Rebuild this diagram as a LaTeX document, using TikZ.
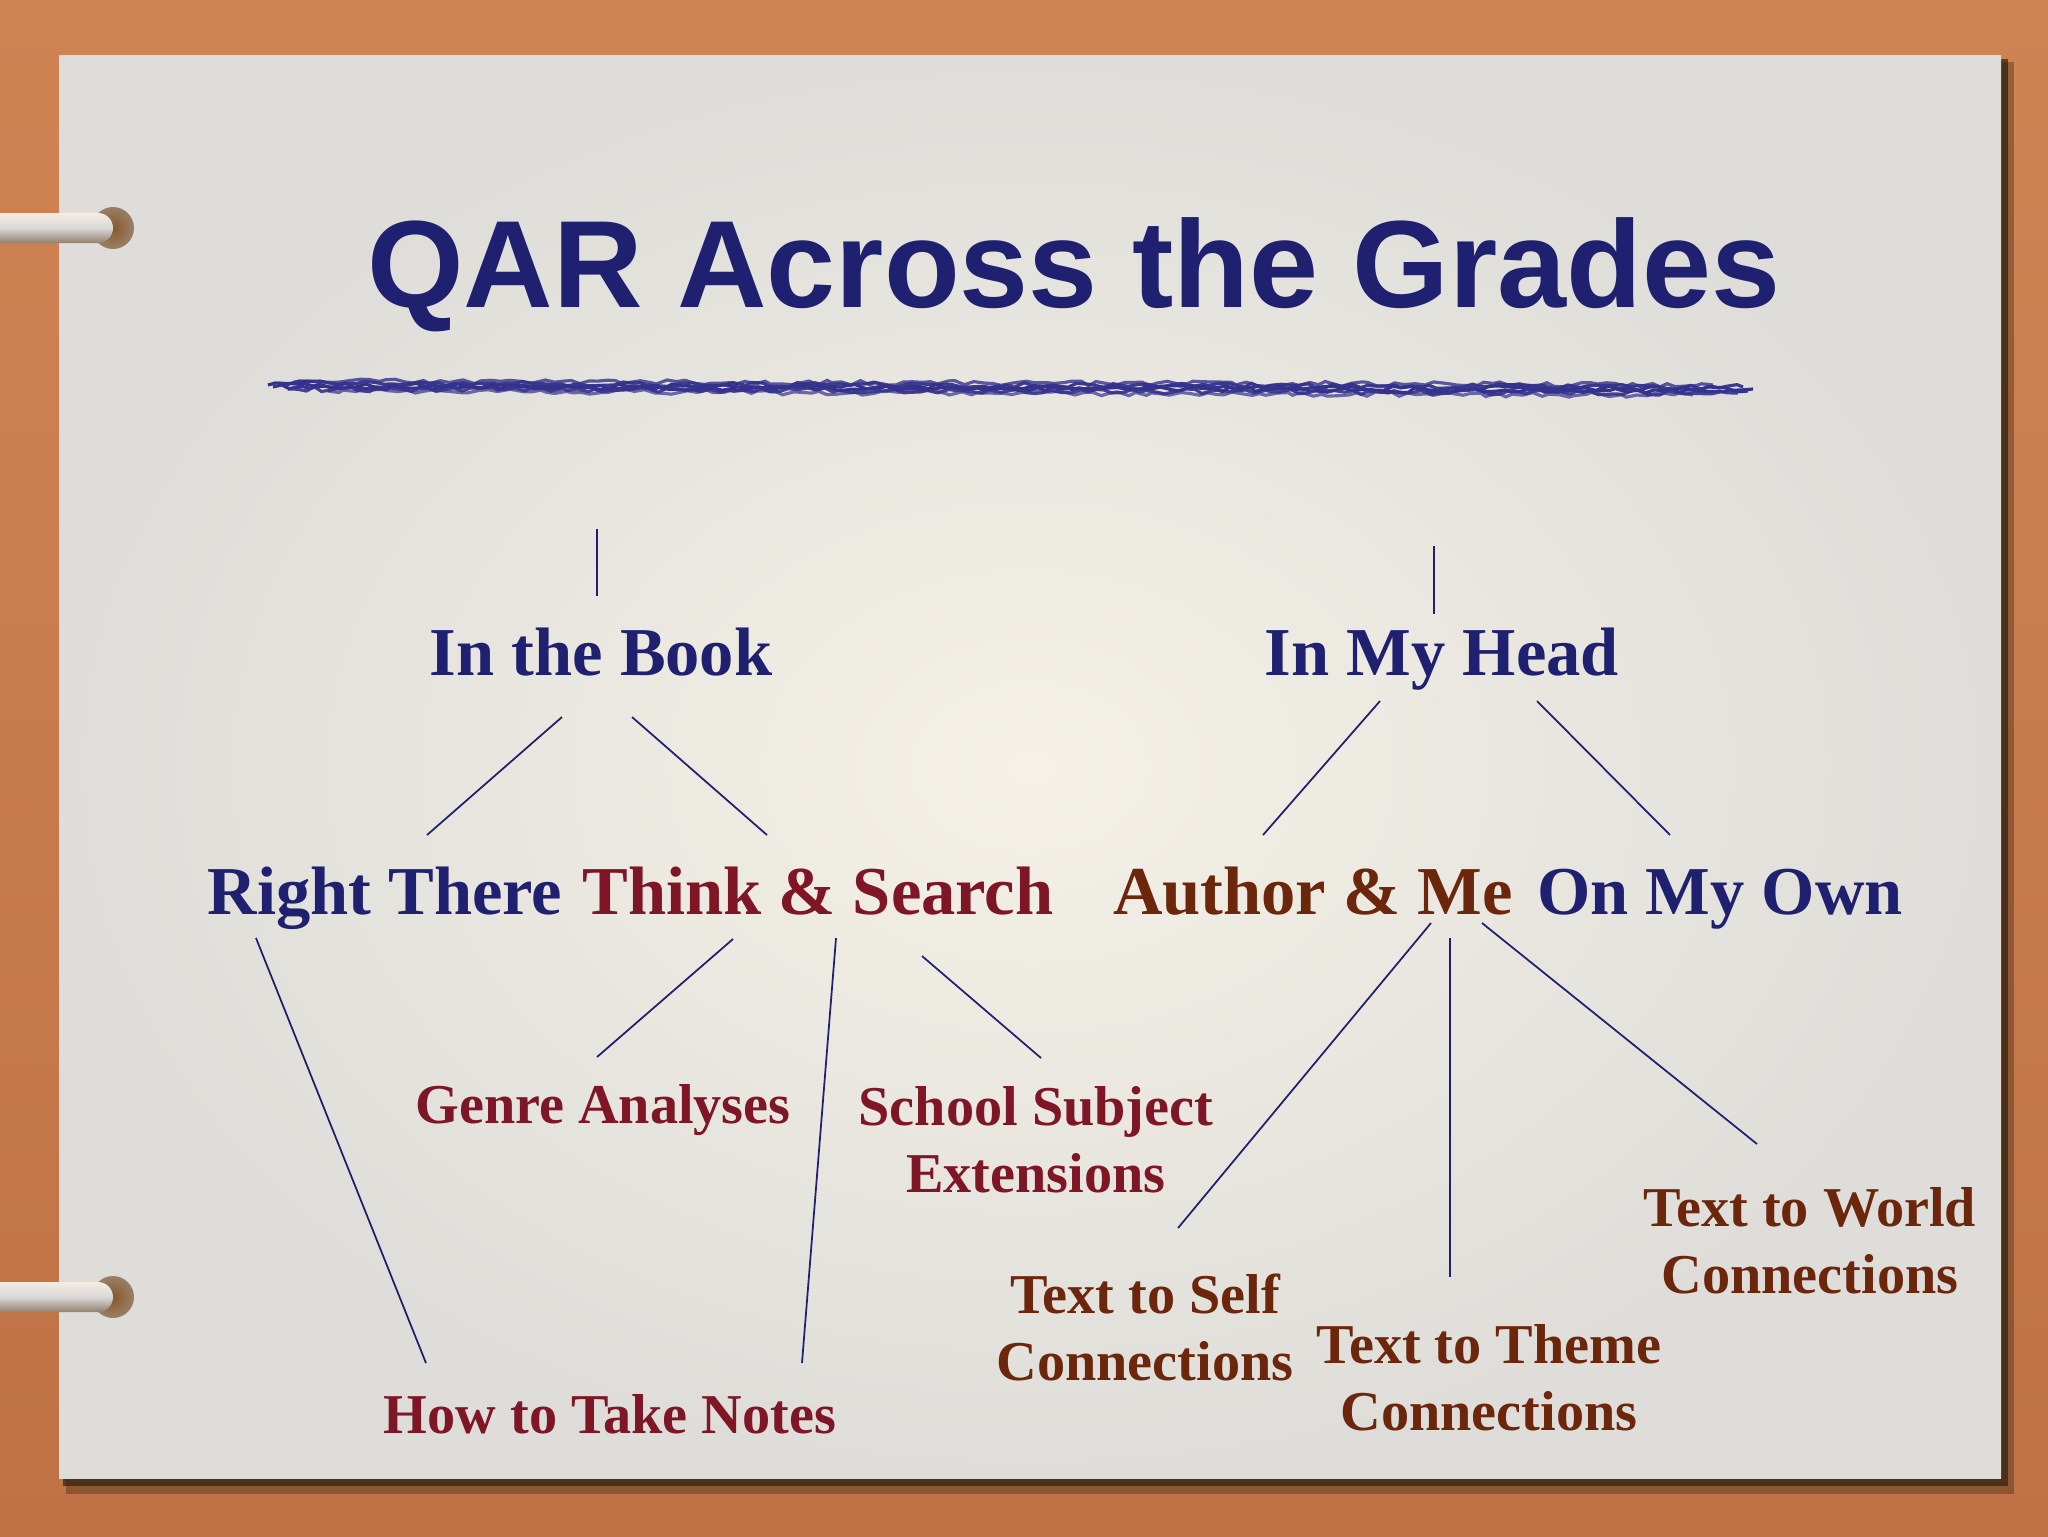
\documentclass[tikz,border=0pt]{standalone}
\usepackage{fontspec}
\setmainfont{Liberation Serif}
\newfontfamily\titlefont{Liberation Sans}
\usepackage{tikz}
\usetikzlibrary{decorations.pathmorphing}
\definecolor{qarnavy}{RGB}{31,33,112}
\definecolor{qarred}{RGB}{126,22,38}
\definecolor{qarbrown}{RGB}{108,38,12}
\definecolor{qarwood}{RGB}{208,132,84}
\definecolor{qarwooddark}{RGB}{192,114,70}
\definecolor{qarpaper}{RGB}{245,241,231}
\definecolor{qarpapergrey}{RGB}{222,221,217}
\definecolor{qarbrush}{RGB}{52,50,140}
\tikzset{
  topic/.style={font=\bfseries\fontsize{19.5}{23}\selectfont, text=qarnavy,
    anchor=base, inner sep=0pt},
  task/.style={font=\bfseries\fontsize{16}{19}\selectfont, align=center,
    anchor=base, inner sep=0pt},
  link/.style={draw=qarnavy, line width=0.5pt},
}

\begin{document}
\begin{tikzpicture}[x=0.1mm,y=-0.1mm]

  \useasboundingbox (0,0) rectangle (2048,1536);

  % Board and page
  \shade[top color=qarwood, bottom color=qarwooddark] (0,0) rectangle (2048,1536);
  \fill[black!60!brown, opacity=0.45] (66,62) rectangle (2014,1494);
  \fill[black!75!brown, opacity=0.7] (63,59) rectangle (2008,1486);
  \shade[inner color=qarpaper, outer color=qarpapergrey] (59,55) rectangle (2001,1478);

  % Rings
  \foreach \ry in {228,1297} {
    \shade[inner color=brown!70!black, outer color=brown!40!gray] (113,\ry) circle (21);
    \shade[top color=white!85!brown, bottom color=gray!70!brown, middle color=gray!30]
      (-30,\ry-15) -- (98,\ry-15) arc[start angle=-90, end angle=90, radius=15]
      -- (-30,\ry+15) -- cycle;
  }

  % Title
  \node[font=\titlefont\bfseries\fontsize{35.3}{40}\selectfont, text=qarnavy,
    anchor=base, inner sep=0pt] (title) at (1074,307) {QAR Across the Grades};

  % Brush stroke
  \coordinate (brushL) at (268,386);
  \coordinate (brushR) at (1753,390);
  \pgfmathsetseed{11}
  \foreach \dy/\xs/\xe/\op in {-5/30/-40/0.8, -3/10/-10/0.95, -1/0/0/1,
      1/5/-5/1, 3/20/-15/0.9, 5/60/-60/0.7} {
    \draw[qarbrush, line width=0.9pt, opacity=\op, decorate,
      decoration={random steps, segment length=2.5pt, amplitude=0.7pt}]
      ([shift={(\xs,\dy)}]brushL) -- ([shift={(\xe,\dy)}]brushR);
  }

  % Nodes
  \node[topic] (book) at (601,675) {In the Book};
  \node[topic] (head) at (1442,675) {In My Head};
  \node[topic] (rthere) at (385,914) {Right There};
  \node[topic, text=qarred] (think) at (818,914) {Think \& Search};
  \node[topic, text=qarbrown] (author) at (1313,914) {Author \& Me};
  \node[topic] (own) at (1720,914) {On My Own};

  \node[task, text=qarred] (genre) at (603,1123) {Genre Analyses};
  \node[task, text=qarred] (subject) at (1036,1192) {School Subject\\Extensions};
  \node[task, text=qarred] (notes) at (610,1433) {How to Take Notes};
  \node[task, text=qarbrown] (self) at (1145,1380) {Text to Self\\Connections};
  \node[task, text=qarbrown] (theme) at (1489,1430) {Text to Theme\\Connections};
  \node[task, text=qarbrown] (world) at (1810,1293) {Text to World\\Connections};

  \coordinate (booktop) at (597,529);
  \coordinate (headtop) at (1434,546);

  % Edges
  \draw[link] (booktop) -- ([shift={(-4,-79)}]book.base);
  \draw[link] (headtop) -- ([shift={(-8,-61)}]head.base);
  \draw[link] ([shift={(-39,42)}]book.base) -- ([shift={(42,-79)}]rthere.base);
  \draw[link] ([shift={(31,42)}]book.base) -- ([shift={(-51,-79)}]think.base);
  \draw[link] ([shift={(-62,26)}]head.base) -- ([shift={(-50,-79)}]author.base);
  \draw[link] ([shift={(95,26)}]head.base) -- ([shift={(-50,-79)}]own.base);
  \draw[link] ([shift={(-129,24)}]rthere.base) -- ([shift={(-184,-70)}]notes.base);
  \draw[link] ([shift={(-85,25)}]think.base) -- ([shift={(-6,-66)}]genre.base);
  \draw[link] ([shift={(18,24)}]think.base) -- ([shift={(192,-70)}]notes.base);
  \draw[link] ([shift={(104,42)}]think.base) -- ([shift={(5,-134)}]subject.base);
  \draw[link] ([shift={(118,9)}]author.base) -- ([shift={(33,-152)}]self.base);
  \draw[link] ([shift={(137,24)}]author.base) -- ([shift={(-39,-153)}]theme.base);
  \draw[link] ([shift={(169,9)}]author.base) -- ([shift={(-53,-149)}]world.base);

\end{tikzpicture}
\end{document}
